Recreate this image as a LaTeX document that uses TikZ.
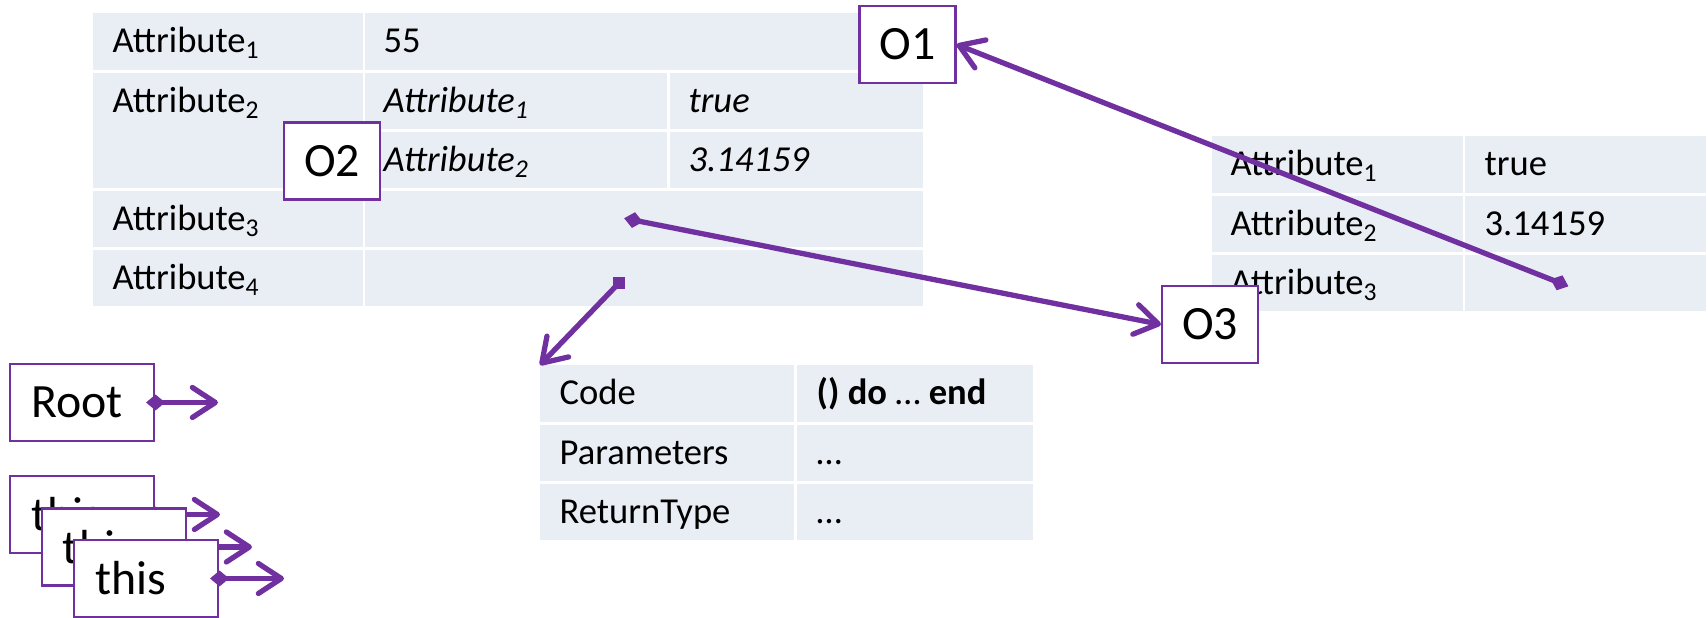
\documentclass[tikz,border=0pt]{standalone}
\usepackage{fontspec}
\setmainfont{Carlito}
\usetikzlibrary{arrows.meta}
\definecolor{cellbg}{RGB}{233,237,244}
\definecolor{ptr}{RGB}{112,48,160}

\begin{document}
\begin{tikzpicture}[
  cell/.style={fill=cellbg},
  txt/.style={anchor=base west, inner sep=0pt, font=\fontsize{10.4}{12}\selectfont},
  obj/.style={draw=ptr, line width=0.6pt, fill=white, minimum width=0.96cm, minimum height=0.77cm, inner sep=0pt, font=\fontsize{13.6}{15}\selectfont},
  var/.style={obj, text width=1.02cm, inner xsep=0.21cm, align=left},
  ptrline/.style={draw=ptr, line width=1.5pt},
  ref/.style={ptrline, shorten <=-0.9mm, {Diamond[length=1.9mm,width=1.6mm]}-{Straight Barb[length=2.3mm,width=3mm,round]}},
]
\useasboundingbox (0,0) rectangle (17.08,6.18);

% outer object
\fill[cell] (0.93,6.05) rectangle (3.63,5.48); % row 1
\fill[cell] (3.65,6.05) rectangle (9.23,5.48);
\fill[cell] (0.93,5.45) rectangle (3.63,4.30); % row 2, nested
\fill[cell] (3.65,5.45) rectangle (6.67,4.89);
\fill[cell] (6.70,5.45) rectangle (9.23,4.89);
\fill[cell] (3.65,4.86) rectangle (6.67,4.30);
\fill[cell] (6.70,4.86) rectangle (9.23,4.30);
\fill[cell] (0.93,4.27) rectangle (3.63,3.71); % row 3
\fill[cell] (3.65,4.27) rectangle (9.23,3.71);
\fill[cell] (0.93,3.68) rectangle (3.63,3.12); % row 4
\fill[cell] (3.65,3.68) rectangle (9.23,3.12);

\node[txt] (oa1) at (1.12,5.65) {Attribute\textsubscript{1}};
\node[txt] (ov1) at (3.83,5.65) {55};
\node[txt] (oa2) at (1.12,5.05) {Attribute\textsubscript{2}};
\node[txt] (ia1) at (3.83,5.05) {\itshape Attribute\textsubscript{1}};
\node[txt] (iv1) at (6.88,5.05) {\itshape true};
\node[txt] (ia2) at (3.83,4.46) {\itshape Attribute\textsubscript{2}};
\node[txt] (iv2) at (6.88,4.46) {\itshape 3.14159};
\node[txt] (oa3) at (1.12,3.87) {Attribute\textsubscript{3}};
\node[txt] (oa4) at (1.12,3.28) {Attribute\textsubscript{4}};

% right object
\fill[cell] (12.12,4.82) rectangle (14.63,4.25);
\fill[cell] (14.65,4.82) rectangle (17.06,4.25);
\fill[cell] (12.12,4.22) rectangle (14.63,3.66);
\fill[cell] (14.65,4.22) rectangle (17.06,3.66);
\fill[cell] (12.12,3.63) rectangle (14.63,3.07);
\fill[cell] (14.65,3.63) rectangle (17.06,3.07);

\node[txt] (ra1) at (12.30,4.42) {Attribute\textsubscript{1}};
\node[txt] (rv1) at (14.84,4.42) {true};
\node[txt] (ra2) at (12.30,3.82) {Attribute\textsubscript{2}};
\node[txt] (rv2) at (14.84,3.82) {3.14159};
\node[txt] (ra3) at (12.30,3.23) {Attribute\textsubscript{3}};

% function object
\fill[cell] (5.40,2.53) rectangle (7.94,1.96);
\fill[cell] (7.97,2.53) rectangle (10.33,1.96);
\fill[cell] (5.40,1.93) rectangle (7.94,1.37);
\fill[cell] (7.97,1.93) rectangle (10.33,1.37);
\fill[cell] (5.40,1.34) rectangle (7.94,0.78);
\fill[cell] (7.97,1.34) rectangle (10.33,0.78);

\node[txt] (ck) at (5.59,2.13) {Code};
\node[txt] (cv) at (8.16,2.13) {\textbf{() do} … \textbf{end}};
\node[txt] (pk) at (5.59,1.53) {Parameters};
\node[txt] (pv) at (8.16,1.53) {…};
\node[txt] (tk) at (5.59,0.94) {ReturnType};
\node[txt] (tv) at (8.16,0.94) {…};

% references out of the cells
\coordinate (o2a3) at (6.33,3.98);
\coordinate (o3a3) at (15.60,3.35);
\coordinate (codetab) at (5.40,2.53);
\node[fill=ptr, inner sep=0pt, minimum size=1.2mm] (o2a4) at (6.19,3.35) {};

\node[obj] (o1) at (9.075,5.735) {O1};
\node[obj] (o2) at (3.32,4.57) {O2};
\node[obj] (o3) at (12.10,2.935) {O3};

\draw[ref] (o2a3) -- (o3.west); % attr3 -> O3
\draw[ref] (o3a3) -- (o1.east); % back to O1
\draw[ptrline, -{Straight Barb[length=2.3mm,width=3mm,round]}] (o2a4.center) -- (codetab); % attr4 -> code

% variables
\coordinate (rootend) at (2.18,2.155);
\coordinate (this1end) at (2.20,1.035);
\coordinate (this2end) at (2.52,0.71);
\coordinate (this3end) at (2.84,0.395);

\node[var] (root) at (0.82,2.155) {Root};
\draw[ref] (root.east) -- (rootend);

\node[var] (this1) at (0.82,1.035) {this};
\draw[ref] (this1.east) -- (this1end);
\node[var] (this2) at (1.14,0.71) {this};
\draw[ref] (this2.east) -- (this2end);
\node[var] (this3) at (1.46,0.395) {this};
\draw[ref] (this3.east) -- (this3end);
\end{tikzpicture}
\end{document}
